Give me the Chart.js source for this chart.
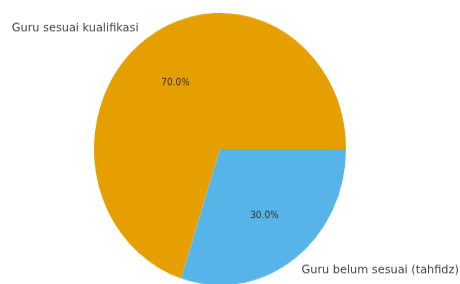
<!DOCTYPE html>
<html>
<head>
<meta charset="utf-8">
<script src="https://cdn.jsdelivr.net/npm/chart.js@4.4.0/dist/chart.umd.min.js"></script>
<style>
  html, body { margin: 0; padding: 0; background: #fff; }
  #wrap { width: 460px; height: 284px; overflow: hidden; }
  #pie { display: block; transform: scaleY(1.08); transform-origin: 0 0; }
</style>
</head>
<body>
<div id="wrap"><canvas id="pie" width="460" height="270"></canvas></div>
<script>
const labels = ['Guru sesuai kualifikasi', 'Guru belum sesuai (tahfidz)'];
const values = [70, 30];
const colors = ['#E69F00', '#56B4E9'];

// draws outside labels and percent text like matplotlib's pie
const pieText = {
  id: 'pieText',
  afterDatasetsDraw(chart) {
    const ctx = chart.ctx;
    const arcs = chart.getDatasetMeta(0).data;
    const total = values.reduce((a, b) => a + b, 0);
    ctx.save();
    arcs.forEach((arc, i) => {
      const mid = (arc.startAngle + arc.endAngle) / 2;
      const r = arc.outerRadius;
      const c = Math.cos(mid), s = Math.sin(mid);
      ctx.textBaseline = 'middle';

      ctx.font = '9px "DejaVu Sans"';
      ctx.fillStyle = '#333';
      ctx.textAlign = 'center';
      ctx.fillText((values[i] / total * 100).toFixed(1) + '%', arc.x + c * r * 0.6, arc.y + s * r * 0.6);

      ctx.font = '11.3px "DejaVu Sans"';
      ctx.fillStyle = '#444';
      ctx.textAlign = c < 0 ? 'right' : 'left';
      ctx.fillText(labels[i], arc.x + c * r * 1.1, arc.y + s * r * 1.1);
    });
    ctx.restore();
  }
};

new Chart(document.getElementById('pie').getContext('2d'), {
  type: 'pie',
  data: {
    labels: labels,
    datasets: [{
      data: values,
      backgroundColor: colors,
      borderWidth: 0
    }]
  },
  options: {
    responsive: false,
    animation: false,
    rotation: 198,
    layout: { padding: { left: 94, right: 114, top: 12, bottom: 6 } },
    plugins: {
      legend: { display: false },
      tooltip: { enabled: false }
    }
  },
  plugins: [pieText]
});
</script>
</body>
</html>
